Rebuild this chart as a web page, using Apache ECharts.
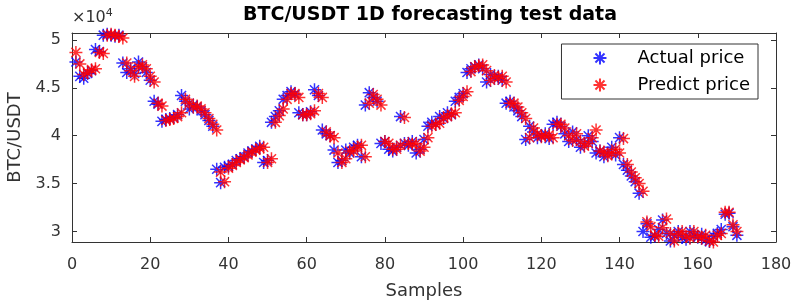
<!DOCTYPE html>
<html>
<head>
<meta charset="utf-8">
<script src="https://cdn.jsdelivr.net/npm/echarts@6/dist/echarts.min.js"></script>
<style>
  html, body { margin: 0; padding: 0; background: #fff; }
  #chart { width: 795px; height: 302px; }
</style>
</head>
<body>
<div id="chart"></div>
<script>
// actual and predicted BTC/USDT close, sample 1..170
const actualPrice = [
  47700, 46200, 46000, 46500, 46800, 49000, 48800, 50500, 50600, 50500,
  50400, 50500, 47600, 46600, 47000, 46500, 47700, 47200, 46600, 45800,
  43600, 43300, 41500, 41700, 41800, 41900, 42200, 44200, 43600, 42800,
  43200, 43000, 42600, 42200, 41600, 41000, 36500, 35100, 36700, 36800,
  37000, 37400, 37600, 37800, 38200, 38400, 38600, 38900, 37200, 37400,
  41400, 42000, 42600, 43800, 44200, 44600, 44300, 42400, 42200, 42200,
  42500, 44800, 44200, 40600, 40200, 40000, 38500, 37200, 37400, 38500,
  38200, 38800, 39000, 37800, 43200, 44500, 44000, 43600, 39200, 39400,
  38600, 38400, 38800, 42000, 39200, 39000, 39400, 38200, 38600, 39600,
  41000, 41400, 41200, 42000, 41800, 42400, 42200, 43600, 44000, 44400,
  46600, 47000, 47200, 47400, 47000, 45600, 46400, 46000, 46200, 45800,
  43400, 43600, 43000, 42600, 42000, 39600, 41000, 40400, 39800, 40000,
  40200, 39700, 41200, 41400, 41000, 40200, 39400, 40400, 39600, 38800,
  39200, 40000, 39400, 38200, 38400, 37800, 38200, 38800, 38000, 39800,
  37000, 36400, 35800, 35200, 34000, 30000, 30800, 29400, 29500, 30200,
  31200, 29800, 29000, 29600, 30000, 29400, 29200, 30000, 29600, 29400,
  29700, 29100, 28950, 29500, 29800, 30200, 31800, 31900, 30500, 29600
];
const predictPrice = [
  48700, 47500, 46400, 46600, 46900, 47000, 48700, 48600, 50500, 50600,
  50500, 50400, 50200, 47600, 46800, 46200, 47200, 47400, 47000, 46200,
  45600, 43400, 43100, 41600, 41700, 41800, 42000, 42400, 43800, 43400,
  43000, 43100, 42800, 42400, 41800, 41200, 40600, 36200, 35200, 36600,
  36900, 37200, 37500, 37700, 38000, 38300, 38500, 38700, 38800, 37200,
  37600, 41400, 42100, 42800, 43800, 44400, 44400, 44000, 42200, 42200,
  42300, 42600, 44400, 44000, 40400, 40000, 39800, 38200, 37200, 37600,
  38400, 38400, 38800, 39000, 37800, 43400, 44300, 43800, 43200, 39400,
  39200, 38600, 38600, 39000, 41900, 39200, 39100, 39200, 38400, 38800,
  39800, 41000, 41200, 41300, 41900, 42000, 42300, 42400, 43700, 44100,
  44600, 46700, 47200, 47300, 47400, 46800, 45800, 46300, 46000, 46200,
  45600, 43400, 43400, 43000, 42400, 41800, 39800, 40800, 40200, 39900,
  40000, 40100, 39800, 41200, 41200, 40800, 40000, 39500, 40200, 39400,
  38900, 39200, 39800, 40600, 38400, 38300, 37900, 38200, 38600, 38200,
  39700, 37000, 36200, 35600, 35000, 34200, 31000, 30500, 29600, 29500,
  30400, 31300, 29800, 29000, 29700, 30000, 29500, 29300, 30000, 29500,
  29300, 29600, 29000, 28900, 29600, 29800, 32000, 32000, 30700, 30000
];
const samples = actualPrice.map((_, i) => i + 1);
const yTicks = [30000, 35000, 40000, 45000, 50000];

// MATLAB style '*' marker
const star = 'path://M0 5 L10 5 M5 0 L5 10 M1.5 1.5 L8.5 8.5 M8.5 1.5 L1.5 8.5';
const ink = '#333333';
const font = 'DejaVu Sans, Verdana, sans-serif';

const chart = echarts.init(document.getElementById('chart'));

const boxAxis = {
  axisLine: { show: true, onZero: false, lineStyle: { color: ink, width: 1 } },
  axisTick: { show: true, inside: true, length: 5, lineStyle: { color: ink } },
  splitLine: { show: false }
};

const option = {
  animation: false,
  backgroundColor: '#fff',
  title: {
    text: 'BTC/USDT 1D forecasting test data',
    left: 425, top: 1, textAlign: 'center',
    textStyle: { fontFamily: font, fontSize: 19, fontWeight: 'bold', color: '#000' }
  },
  grid: { left: 72, right: 19, top: 33, bottom: 60, outerBoundsMode: 'none' },
  legend: {
    right: 37, top: 44,
    orient: 'vertical',
    itemGap: 7, itemWidth: 13, itemHeight: 13,
    padding: [4, 8, 4, 31],
    borderColor: ink, borderWidth: 1, backgroundColor: '#fff', borderRadius: 0,
    textStyle: { fontFamily: font, fontSize: 18, lineHeight: 20, color: '#000', padding: [0, 0, 0, 26] },
    data: ['Actual price', 'Predict price']
  },
  xAxis: [
    Object.assign({}, boxAxis, {
      type: 'value', min: 0, max: 180, interval: 20,
      name: 'Samples', nameLocation: 'middle', nameGap: 40,
      nameTextStyle: { fontFamily: font, fontSize: 18, color: ink },
      axisLabel: { fontFamily: font, fontSize: 16, color: ink, margin: 15 }
    }),
    Object.assign({}, boxAxis, {
      type: 'value', min: 0, max: 180, interval: 20, position: 'top',
      axisLabel: { show: false }
    })
  ],
  yAxis: [
    Object.assign({}, boxAxis, {
      type: 'value', min: 28900, max: 50730,
      name: 'BTC/USDT', nameLocation: 'middle', nameGap: 36,
      nameTextStyle: { fontFamily: font, fontSize: 18, color: ink },
      axisTick: Object.assign({}, boxAxis.axisTick, { customValues: yTicks }),
      axisLabel: {
        fontFamily: font, fontSize: 16, color: ink, margin: 11,
        customValues: yTicks,
        formatter: v => String(v / 10000)
      }
    }),
    Object.assign({}, boxAxis, {
      type: 'value', min: 28900, max: 50730, position: 'right',
      axisTick: Object.assign({}, boxAxis.axisTick, { customValues: yTicks }),
      axisLabel: { show: false, customValues: yTicks }
    })
  ],
  graphic: [{
    type: 'text', left: 72, top: 8,
    style: {
      text: '{a|×10}{b|4}',
      rich: {
        a: { fontFamily: font, fontSize: 16, fill: ink },
        b: { fontFamily: font, fontSize: 11, fill: ink, verticalAlign: 'top', padding: [0, 0, 8, 0] }
      }
    }
  }],
  series: [
    {
      name: 'Actual price', type: 'scatter',
      symbol: star, symbolSize: 13,
      itemStyle: { color: 'transparent', borderColor: '#0000ff', borderWidth: 1.5 },
      data: samples.map((s, i) => [s, actualPrice[i]])
    },
    {
      name: 'Predict price', type: 'scatter',
      symbol: star, symbolSize: 13,
      itemStyle: { color: 'transparent', borderColor: '#ff0000', borderWidth: 1.5 },
      data: samples.map((s, i) => [s, predictPrice[i]])
    }
  ]
};

chart.setOption(option);
</script>
</body>
</html>
